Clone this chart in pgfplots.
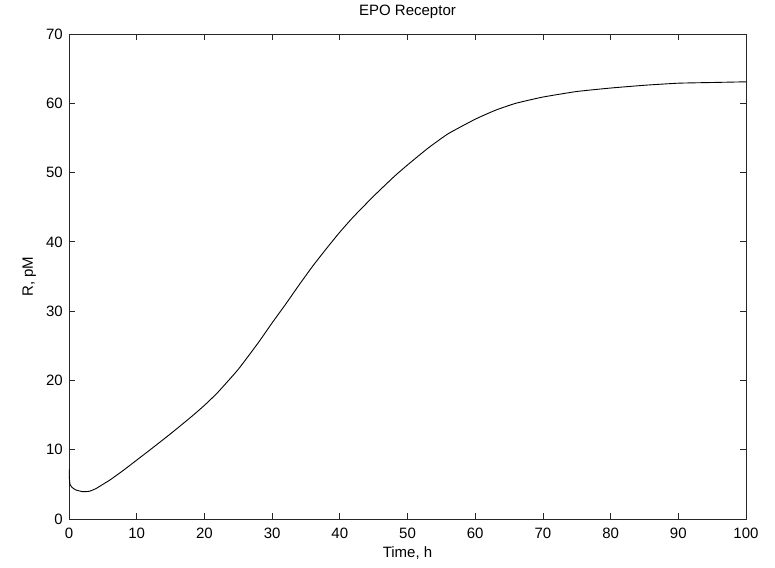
\documentclass[border=0pt]{standalone}
\usepackage{pgfplots}
\pgfplotsset{compat=1.18}
\usepackage{fontspec}
\setmainfont{Liberation Sans}
\newcommand{\plotfont}{\fontsize{15bp}{17bp}\selectfont}

\begin{document}
\begin{tikzpicture}
% fixed canvas around the axis box
\useasboundingbox (-69bp,-49bp) rectangle (706bp,519bp);
\begin{axis}[
  scale only axis,
  width=677bp, height=485bp,
  xmin=0, xmax=100, ymin=0, ymax=70,
  xtick={0,10,...,100}, ytick={0,10,...,70},
  tick align=inside, tick pos=both,
  major tick length=6bp,
  axis line style={line width=0.8bp, black!85},
  every tick/.style={line width=0.8bp, black!85},
  /pgf/number format/assume math mode=true,
  tick label style={font=\plotfont},
  label style={font=\plotfont},
  xticklabel style={anchor=base, yshift=-19bp, inner sep=0pt},
  yticklabel style={anchor=east, xshift=-6bp, inner sep=0pt},
  title={EPO Receptor},
  title style={font=\plotfont, at={(axis description cs:0.5,1.0268)}, anchor=base, inner sep=0pt},
  xlabel={Time, h},
  xlabel style={at={(axis description cs:0.5,-0.0784)}, anchor=base, inner sep=0pt},
  ylabel={R, pM},
  ylabel style={at={(axis description cs:-0.0532,0.5)}, anchor=base, rotate=0, inner sep=0pt},
]
\addplot[black, line width=0.9bp, smooth, tension=0.3] coordinates {
  (0,7.2) (0.05,6.0) (0.15,5.0) (0.4,4.6) (1,4.2) (2,3.95) (3,4.0)
  (4,4.4) (5,5.0) (6,5.6) (8,7.0) (10,8.5) (12,10.0) (15,12.3)
  (18,14.7) (20,16.4) (22,18.3) (25,21.6) (28,25.5) (30,28.3)
  (32,31.0) (34,33.8) (36,36.5) (38,39.0) (40,41.4) (42,43.6)
  (45,46.6) (48,49.4) (50,51.1) (53,53.5) (56,55.6) (60,57.7)
  (63,59.0) (66,60.0) (70,60.9) (75,61.7) (80,62.2) (85,62.6)
  (90,62.9) (95,63.0) (100,63.1)
};
\end{axis}
\end{tikzpicture}
\end{document}
